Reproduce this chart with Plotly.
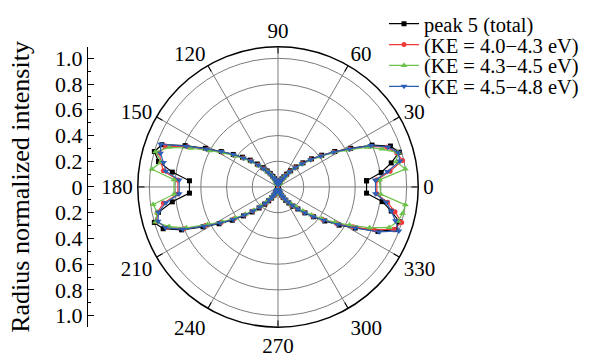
import plotly.graph_objects as go

# ---------------- data ----------------
angles = list(range(4, 180, 4)) + list(range(184, 360, 4))

peak5_total = [
    0.69, 0.81, 0.90, 0.98, 0.93, 0.80, 0.64, 0.52, 0.42, 0.34, 0.27, 0.21,
    0.16, 0.12, 0.09, 0.07, 0.05, 0.04, 0.03, 0.02, 0.02, 0.02, 0.02, 0.02,
    0.03, 0.04, 0.05, 0.07, 0.09, 0.12, 0.15, 0.19, 0.24, 0.30, 0.36, 0.43,
    0.52, 0.64, 0.79, 0.96, 1.00, 0.95, 0.83, 0.69,
    0.69, 0.83, 0.95, 1.00, 0.95, 0.82, 0.66, 0.54, 0.44, 0.35, 0.28, 0.22,
    0.17, 0.13, 0.10, 0.07, 0.05, 0.04, 0.03, 0.02, 0.02, 0.02, 0.02, 0.02,
    0.03, 0.04, 0.05, 0.07, 0.09, 0.12, 0.15, 0.19, 0.23, 0.29, 0.36, 0.45,
    0.56, 0.68, 0.85, 0.97, 0.98, 0.90, 0.82, 0.69,
]

ke_40_43 = [
    0.77, 0.88, 0.99, 0.96, 0.90, 0.78, 0.63, 0.51, 0.41, 0.33, 0.26, 0.20,
    0.15, 0.11, 0.08, 0.06, 0.05, 0.04, 0.03, 0.02, 0.02, 0.02, 0.02, 0.02,
    0.03, 0.04, 0.05, 0.06, 0.08, 0.11, 0.14, 0.18, 0.23, 0.29, 0.35, 0.42,
    0.51, 0.62, 0.77, 0.93, 0.96, 0.93, 0.90, 0.78,
    0.78, 0.90, 0.96, 0.98, 0.92, 0.80, 0.64, 0.52, 0.42, 0.34, 0.27, 0.21,
    0.16, 0.12, 0.09, 0.07, 0.05, 0.04, 0.03, 0.02, 0.02, 0.02, 0.02, 0.02,
    0.03, 0.04, 0.05, 0.07, 0.09, 0.11, 0.14, 0.18, 0.22, 0.28, 0.35, 0.43,
    0.54, 0.66, 0.82, 0.96, 1.00, 0.93, 0.86, 0.77,
]

ke_43_45 = [
    0.79, 1.00, 0.94, 0.97, 0.86, 0.76, 0.61, 0.50, 0.40, 0.32, 0.25, 0.19,
    0.14, 0.10, 0.08, 0.06, 0.04, 0.03, 0.03, 0.02, 0.02, 0.02, 0.02, 0.02,
    0.03, 0.04, 0.05, 0.06, 0.08, 0.11, 0.14, 0.17, 0.22, 0.28, 0.34, 0.41,
    0.50, 0.60, 0.74, 0.90, 0.99, 0.93, 0.99, 0.81,
    0.81, 0.98, 0.96, 0.99, 0.90, 0.78, 0.62, 0.51, 0.41, 0.33, 0.26, 0.20,
    0.15, 0.11, 0.09, 0.06, 0.05, 0.04, 0.03, 0.02, 0.02, 0.02, 0.02, 0.02,
    0.03, 0.04, 0.05, 0.06, 0.08, 0.11, 0.14, 0.17, 0.21, 0.27, 0.34, 0.42,
    0.52, 0.63, 0.78, 0.92, 0.97, 0.99, 1.00, 0.80,
]

ke_45_48 = [
    0.76, 0.86, 0.97, 0.97, 0.91, 0.79, 0.63, 0.51, 0.41, 0.33, 0.26, 0.20,
    0.15, 0.11, 0.08, 0.06, 0.05, 0.04, 0.03, 0.02, 0.02, 0.02, 0.02, 0.02,
    0.03, 0.04, 0.05, 0.06, 0.08, 0.11, 0.14, 0.18, 0.23, 0.29, 0.35, 0.43,
    0.52, 0.63, 0.78, 0.97, 0.95, 0.91, 0.88, 0.77,
    0.77, 0.88, 0.95, 0.97, 0.93, 0.81, 0.65, 0.53, 0.43, 0.34, 0.27, 0.21,
    0.16, 0.12, 0.09, 0.07, 0.05, 0.04, 0.03, 0.02, 0.02, 0.02, 0.02, 0.02,
    0.03, 0.04, 0.05, 0.07, 0.09, 0.11, 0.14, 0.18, 0.23, 0.29, 0.36, 0.44,
    0.55, 0.68, 0.86, 1.00, 0.95, 0.90, 0.85, 0.76,
]

series_names = ["peak 5 (total)", "(KE = 4.0\u22124.3 eV)",
                "(KE = 4.3\u22124.5 eV)", "(KE = 4.5\u22124.8 eV)"]
series_values = [peak5_total, ke_40_43, ke_43_45, ke_45_48]
series_colors = ["#000000", "#f03a3a", "#6cc24a", "#2d5fb4"]
series_symbols = ["square", "circle", "triangle-up", "triangle-down"]
series_sizes = [5, 5, 6, 6]

angle_ticks = [0, 30, 60, 90, 120, 150, 180, 210, 240, 270, 300, 330]
angle_minor = [15, 45, 75, 105, 135, 165, 195, 225, 255, 285, 315, 345]
radial_major = [0.2, 0.4, 0.6, 0.8, 1.0]
radial_minor = [0.1, 0.3, 0.5, 0.7, 0.9]
left_tickvals = [-1.0, -0.8, -0.6, -0.4, -0.2, 0.0, 0.2, 0.4, 0.6, 0.8, 1.0]
left_ticktext = ["1.0", "0.8", "0.6", "0.4", "0.2", "0", "0.2", "0.4", "0.6", "0.8", "1.0"]
left_minor = [-0.9, -0.7, -0.5, -0.3, -0.1, 0.1, 0.3, 0.5, 0.7, 0.9]
r_max = 1.09

# ---------------- layout geometry ----------------
W, H = 601, 360
cx, cy, rad = 278, 187, 141
dom_x = [(cx - rad) / W, (cx + rad) / W]
dom_y = [(H - cy - rad) / H, (H - cy + rad) / H]
FONT = "Liberation Serif"

fig = go.Figure()

# dummy cartesian trace so that the left axis is drawn
fig.add_trace(go.Scatter(x=[None], y=[None], showlegend=False, hoverinfo="skip"))

legend_rows = [23, 44, 65, 86]
legend_keys = ["legend", "legend2", "legend3", "legend4"]
for name, vals, col, sym, sz, lk in zip(series_names, series_values, series_colors,
                                         series_symbols, series_sizes, legend_keys):
    fig.add_trace(go.Scatterpolar(
        r=vals + [vals[0]], theta=angles + [angles[0]],
        mode="lines+markers", name=name, subplot="polar2", legend=lk,
        line=dict(color=col, width=1.2),
        marker=dict(symbol=sym, size=sz, color=col, line=dict(width=0)),
    ))

legend_common = dict(font=dict(family=FONT, size=20.5, color="black"),
                     bgcolor="rgba(0,0,0,0)", borderwidth=0,
                     xanchor="left", yanchor="middle", x=384 / W,
                     itemwidth=30, tracegroupgap=0)
legends = {}
for lk, yc in zip(legend_keys, legend_rows):
    legends[lk] = dict(legend_common, y=1 - yc / H)

fig.update_layout(
    width=W, height=H,
    margin=dict(l=0, r=0, t=0, b=0),
    paper_bgcolor="white", plot_bgcolor="white",
    font=dict(family=FONT, size=20, color="black"),
    showlegend=True,
    polar=dict(
        domain=dict(x=dom_x, y=dom_y),
        bgcolor="white",
        radialaxis=dict(range=[0, r_max], tickvals=radial_minor, showticklabels=False,
                        ticks="", showline=False, gridcolor="#c4c4c4", gridwidth=1),
        angularaxis=dict(tickvals=angle_minor, showticklabels=False, ticks="",
                         showline=False, gridcolor="#c4c4c4", gridwidth=1),
    ),
    polar2=dict(
        domain=dict(x=dom_x, y=dom_y),
        bgcolor="rgba(0,0,0,0)",
        radialaxis=dict(range=[0, r_max], tickvals=radial_major, showticklabels=False,
                        ticks="", showline=False, gridcolor="#7c7c7c", gridwidth=1),
        angularaxis=dict(tickvals=angle_ticks, ticktext=[str(a) for a in angle_ticks],
                         ticks="inside", ticklen=6, tickwidth=1.2, tickcolor="black",
                         showline=True, linecolor="black", linewidth=1.5,
                         gridcolor="#7c7c7c", gridwidth=1,
                         tickfont=dict(family=FONT, size=21, color="black")),
    ),
    xaxis=dict(visible=False, domain=[0.9, 1.0]),
    yaxis=dict(domain=dom_y, range=[-r_max, r_max], anchor="free", position=87 / W,
               side="left", showline=True, linecolor="black", linewidth=1.3,
               tickvals=left_tickvals, ticktext=left_ticktext,
               ticks="inside", ticklen=6, tickwidth=1.2, tickcolor="black",
               minor=dict(ticks="inside", ticklen=3, tickwidth=1, tickcolor="black",
                          tickvals=left_minor),
               showgrid=False, zeroline=False,
               tickfont=dict(family=FONT, size=22, color="black"),
               title=dict(text="Radius normalized intensity",
                          font=dict(family=FONT, size=26, color="black"), standoff=16)),
    **legends,
)

fig.write_html("out.html")
